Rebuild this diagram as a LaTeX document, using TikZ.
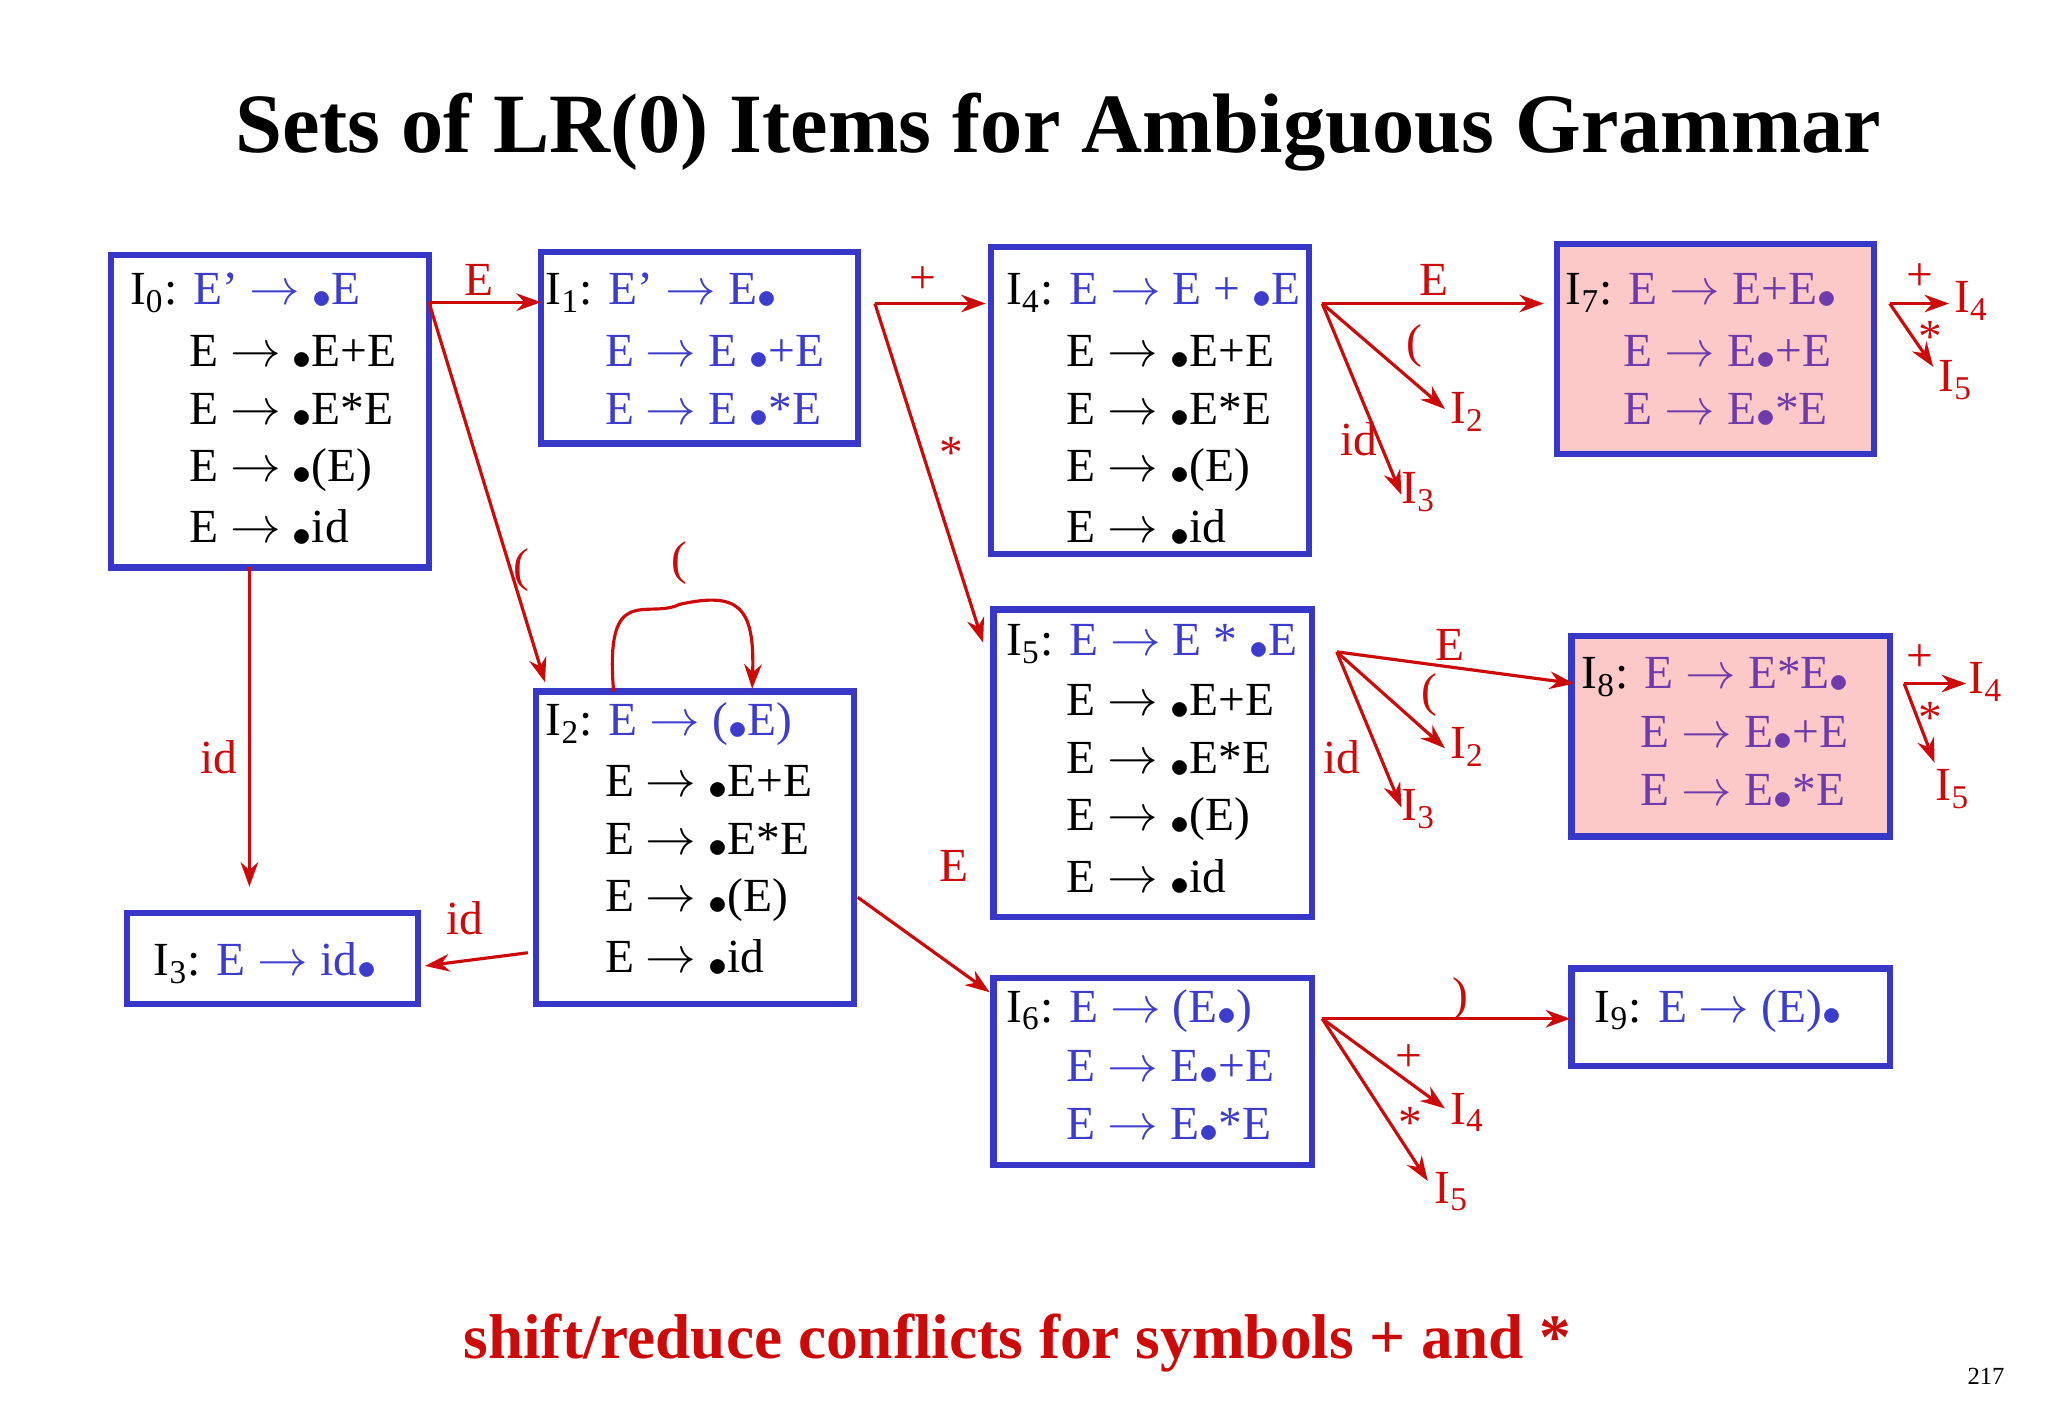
\documentclass[tikz,border=0pt]{standalone}
\usepackage{fontspec}
\setmainfont{Liberation Serif}
\usetikzlibrary{arrows.meta}
\definecolor{bbox}{RGB}{55,55,200}
\definecolor{btxt}{RGB}{60,60,205}
\definecolor{ptxt}{RGB}{110,60,170}
\definecolor{rd}{RGB}{205,10,10}
\definecolor{pinkf}{RGB}{252,200,200}
\newcommand{\dt}{\raisebox{-1pt}{\scalebox{0.75}{$\bullet$}}}
\newcommand{\ar}{$\rightarrow$}
\tikzset{
 itembox/.style={draw=bbox,line width=1.8pt},
 it/.style={anchor=west,inner sep=0pt,font=\fontsize{13.5}{16}\selectfont},
 lb/.style={inner sep=0pt,text=rd,font=\fontsize{13.5}{16}\selectfont},
 ra/.style={draw=rd,line width=0.9pt,-{Stealth[length=7pt,width=5pt]}}
}
\begin{document}
\begin{tikzpicture}[x=0.01319cm,y=-0.01319cm]
\useasboundingbox (0,0) rectangle (1552,1075);
\node[font=\bfseries\fontsize{24}{28}\selectfont] (title) at (802,100) {Sets of LR(0) Items for Ambiguous Grammar};
% boxes
\draw[itembox] (84,193) rectangle (325,430);
\draw[itembox] (410,191) rectangle (650,336);
\draw[itembox] (751,187) rectangle (992,420);
\draw[itembox,fill=pinkf] (1180,185) rectangle (1420,344);
\draw[itembox] (406,524) rectangle (647,761);
\draw[itembox] (96,692) rectangle (317,761);
\draw[itembox] (753,462) rectangle (994,695);
\draw[itembox,fill=pinkf] (1191,482) rectangle (1432,634);
\draw[itembox] (753,741) rectangle (994,883);
\draw[itembox] (1191,734) rectangle (1432,808);
% I0
\node[it] (a0) at (98,222) {I\textsubscript{0}: \textcolor{btxt}{E’ \ar{} \dt E}};
\node[it] (a1) at (143,267) {E \ar{} \dt E+E};
\node[it] (a2) at (143,311) {E \ar{} \dt E*E};
\node[it] (a3) at (143,356) {E \ar{} \dt(E)};
\node[it] (a4) at (143,400) {E \ar{} \dt id};
% I1
\node[it,text=btxt] (b0) at (413,222) {\textcolor{black}{I\textsubscript{1}:} E’ \ar{} E\dt};
\node[it,text=btxt] (b1) at (458,267) {E \ar{} E \dt+E};
\node[it,text=btxt] (b2) at (458,311) {E \ar{} E \dt*E};
% I4
\node[it,text=btxt] (c0) at (762,222) {\textcolor{black}{I\textsubscript{4}:} E \ar{} E + \dt E};
\node[it] (c1) at (808,267) {E \ar{} \dt E+E};
\node[it] (c2) at (808,311) {E \ar{} \dt E*E};
\node[it] (c3) at (808,356) {E \ar{} \dt(E)};
\node[it] (c4) at (808,400) {E \ar{} \dt id};
% I5
\node[it,text=btxt] (d0) at (762,488) {\textcolor{black}{I\textsubscript{5}:} E \ar{} E * \dt E};
\node[it] (d1) at (808,532) {E \ar{} \dt E+E};
\node[it] (d2) at (808,576) {E \ar{} \dt E*E};
\node[it] (d3) at (808,621) {E \ar{} \dt(E)};
\node[it] (d4) at (808,665) {E \ar{} \dt id};
% I2
\node[it,text=btxt] (e0) at (413,549) {\textcolor{black}{I\textsubscript{2}:} E \ar{} (\dt E)};
\node[it] (e1) at (458,593) {E \ar{} \dt E+E};
\node[it] (e2) at (458,637) {E \ar{} \dt E*E};
\node[it] (e3) at (458,682) {E \ar{} \dt(E)};
\node[it] (e4) at (458,726) {E \ar{} \dt id};
% I3
\node[it,text=btxt] (f0) at (116,730) {\textcolor{black}{I\textsubscript{3}:} E \ar{} id\dt};
% I6
\node[it,text=btxt] (g0) at (762,766) {\textcolor{black}{I\textsubscript{6}:} E \ar{} (E\dt)};
\node[it,text=btxt] (g1) at (808,809) {E \ar{} E\dt+E};
\node[it,text=btxt] (g2) at (808,853) {E \ar{} E\dt*E};
% I7
\node[it,text=ptxt] (h0) at (1186,222) {\textcolor{black}{I\textsubscript{7}:} E \ar{} E+E\dt};
\node[it,text=ptxt] (h1) at (1230,267) {E \ar{} E\dt+E};
\node[it,text=ptxt] (h2) at (1230,311) {E \ar{} E\dt*E};
% I8
\node[it,text=ptxt] (k0) at (1198,513) {\textcolor{black}{I\textsubscript{8}:} E \ar{} E*E\dt};
\node[it,text=ptxt] (k1) at (1243,556) {E \ar{} E\dt+E};
\node[it,text=ptxt] (k2) at (1243,600) {E \ar{} E\dt*E};
% I9
\node[it,text=btxt] (m0) at (1208,766) {\textcolor{black}{I\textsubscript{9}:} E \ar{} (E)\dt};
% coordinates
\coordinate (p0) at (325,229); \coordinate (p1) at (410,229);
\coordinate (p2) at (413,517); \coordinate (p3) at (189,430); \coordinate (p4) at (189,672);
\coordinate (p5) at (400,722); \coordinate (p6) at (322,732);
\coordinate (p7) at (465,524); \coordinate (p8) at (570,522);
\coordinate (q0) at (663,230); \coordinate (q1) at (747,230); \coordinate (q2) at (745,487);
\coordinate (q3) at (650,680); \coordinate (q4) at (750,752);
\coordinate (r0) at (1002,230); \coordinate (r1) at (1170,230); \coordinate (r2) at (1095,310); \coordinate (r3) at (1062,375);
\coordinate (s0) at (1432,230); \coordinate (s1) at (1477,230); \coordinate (s2) at (1465,278);
\coordinate (t0) at (1013,494); \coordinate (t1) at (1193,518); \coordinate (t2) at (1095,567); \coordinate (t3) at (1062,612);
\coordinate (u0) at (1443,518); \coordinate (u1) at (1490,518); \coordinate (u2) at (1466,578);
\coordinate (v0) at (1002,772); \coordinate (v1) at (1190,772); \coordinate (v2) at (1095,840); \coordinate (v3) at (1082,895);
% arrows
\draw[ra] (p0) -- (p1); \node[lb] (l1) at (363,212) {E};
\draw[ra] (p0) -- (p2); \node[lb] (l2) at (395,432) {(};
\draw[ra] (p3) -- (p4); \node[lb] (l3) at (166,574) {id};
\draw[ra] (p5) -- (p6); \node[lb] (l4) at (352,696) {id};
\draw[ra] (p7) .. controls (458,440) and (490,470) .. (515,458) .. controls (560,448) and (572,460) .. (p8); \node[lb] (l5) at (515,427) {(};
\draw[ra] (q0) -- (q1); \node[lb] (l6) at (699,212) {+};
\draw[ra] (q0) -- (q2); \node[lb] (l7) at (721,343) {*};
\draw[ra] (q3) -- (q4); \node[lb] (l8) at (723,656) {E};
\draw[ra] (r0) -- (r1); \node[lb] (l9) at (1087,212) {E};
\draw[ra] (r0) -- (r2); \node[lb] (l10) at (1072,262) {(}; \node[lb] (n1) at (1112,312) {I\textsubscript{2}};
\draw[ra] (r0) -- (r3); \node[lb] (l11) at (1030,333) {id}; \node[lb] (n2) at (1075,373) {I\textsubscript{3}};
\draw[ra] (s0) -- (s1); \node[lb] (l12) at (1455,210) {+}; \node[lb] (n3) at (1494,228) {I\textsubscript{4}};
\draw[ra] (s0) -- (s2); \node[lb] (l13) at (1463,255) {*}; \node[lb] (n4) at (1482,288) {I\textsubscript{5}};
\draw[ra] (t0) -- (t1); \node[lb] (l14) at (1099,489) {E};
\draw[ra] (t0) -- (t2); \node[lb] (l15) at (1083,527) {(}; \node[lb] (n5) at (1112,566) {I\textsubscript{2}};
\draw[ra] (t0) -- (t3); \node[lb] (l16) at (1017,574) {id}; \node[lb] (n6) at (1075,613) {I\textsubscript{3}};
\draw[ra] (u0) -- (u1); \node[lb] (l17) at (1455,499) {+}; \node[lb] (n7) at (1505,517) {I\textsubscript{4}};
\draw[ra] (u0) -- (u2); \node[lb] (l18) at (1463,544) {*}; \node[lb] (n8) at (1480,598) {I\textsubscript{5}};
\draw[ra] (v0) -- (v1); \node[lb] (l19) at (1107,757) {)};
\draw[ra] (v0) -- (v2); \node[lb] (l20) at (1068,802) {+}; \node[lb] (n9) at (1112,843) {I\textsubscript{4}};
\draw[ra] (v0) -- (v3); \node[lb] (l21) at (1069,851) {*}; \node[lb] (n10) at (1100,903) {I\textsubscript{5}};
\node[text=rd,font=\bfseries\fontsize{18}{22}\selectfont] (foot) at (771,1018) {shift/reduce conflicts for symbols + and *};
\node[font=\fontsize{7}{8}\selectfont] (pg) at (1505,1043) {217};
\end{tikzpicture}
\end{document}
